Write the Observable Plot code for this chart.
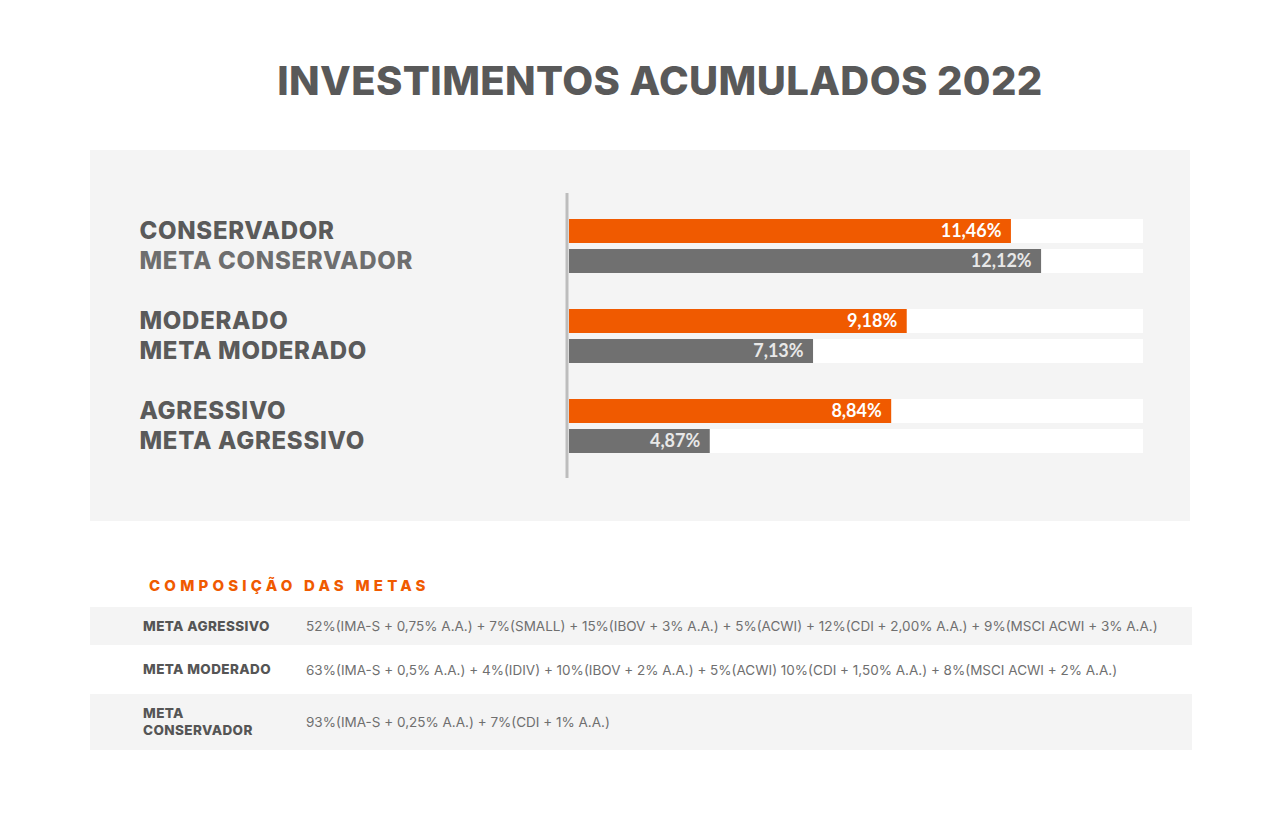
<!DOCTYPE html>
<html>
<head>
<meta charset="utf-8">
<script src="https://cdn.jsdelivr.net/npm/d3@7"></script>
<script src="https://cdn.jsdelivr.net/npm/@observablehq/plot@0.6"></script>
<style>
  html, body { margin: 0; padding: 0; background: #ffffff; }
  body { width: 1280px; height: 820px; position: relative; overflow: hidden; font-family: Inter, "Open Sans", sans-serif; }
  #title { position: absolute; left: 0; width: 1320px; top: 56px; text-align: center; font-size: 40px; font-weight: 800; color: #595959; letter-spacing: 0.4px; }
  #panel { position: absolute; left: 90px; top: 150px; width: 1100px; height: 371px; background: #f4f4f4; }
  #panel svg { overflow: visible; background: transparent; }
  #panel g[aria-label="rotulos"] text, #panel text[aria-label="rotulos"] { letter-spacing: 0.7px; }
  #comp { position: absolute; left: 149px; top: 576px; font-size: 15px; font-weight: 800; color: #f05a00; letter-spacing: 4.2px; }
  #tbl { position: absolute; left: 90px; top: 607px; width: 1102px; border-collapse: collapse; }
  #tbl td { padding: 0; vertical-align: middle; }
  #tbl td.n { padding-left: 53px; padding-right: 28px; width: 135px; font-size: 13.5px; font-weight: 800; color: #555555; line-height: 17px; letter-spacing: 0.4px; }
  #tbl td.c { padding-left: 0; font-size: 13.5px; color: #6f6f6f; white-space: nowrap; }
</style>
</head>
<body>
<div id="title">INVESTIMENTOS ACUMULADOS 2022</div>
<div id="panel"></div>
<div id="comp">COMPOSIÇÃO DAS METAS</div>
<table id="tbl"></table>
<script>
// ---- data ----
const categories = ["CONSERVADOR", "META CONSERVADOR", "MODERADO", "META MODERADO", "AGRESSIVO", "META AGRESSIVO"];
const values = [11.46, 12.12, 9.18, 7.13, 8.84, 4.87];
const series = ["Carteira", "Meta", "Carteira", "Meta", "Carteira", "Meta"];
const rowOrder = ["CONSERVADOR", "META CONSERVADOR", " ", "MODERADO", "META MODERADO", "  ", "AGRESSIVO", "META AGRESSIVO"];
const xDomain = [1.79, 14.35];

const metaNames = ["META AGRESSIVO", "META MODERADO", "META CONSERVADOR"];
const metaCompositions = [
  "52%(IMA-S + 0,75% A.A.) + 7%(SMALL) + 15%(IBOV + 3% A.A.) + 5%(ACWI) + 12%(CDI + 2,00% A.A.) + 9%(MSCI ACWI + 3% A.A.)",
  "63%(IMA-S + 0,5% A.A.) + 4%(IDIV) + 10%(IBOV + 2% A.A.) + 5%(ACWI) 10%(CDI + 1,50% A.A.) + 8%(MSCI ACWI + 2% A.A.)",
  "93%(IMA-S + 0,25% A.A.) + 7%(CDI + 1% A.A.)"
];

const data = categories.map((c, i) => ({category: c, value: values[i], series: series[i]}));
const fmt = v => v.toFixed(2).replace(".", ",") + "%";

const chart = Plot.plot({
  width: 1100,
  height: 371,
  marginTop: 43,
  marginBottom: 43,
  marginLeft: 479,
  marginRight: 47,
  style: {background: "transparent", overflow: "visible"},
  x: {domain: xDomain, clamp: true, axis: null},
  y: {domain: rowOrder, paddingInner: 0.2, paddingOuter: 0.834, axis: null},
  marks: [
    Plot.barX(categories, {y: d => d, x1: xDomain[0], x2: xDomain[1], fill: "#ffffff"}),
    Plot.barX(data, {y: "category", x1: xDomain[0], x2: "value", fill: d => d.series === "Meta" ? "#707070" : "#f05a00"}),
    Plot.ruleX([xDomain[0]], {stroke: "#bdbdbd", strokeWidth: 3, dx: -2.5}),
    Plot.text(data, {
      ariaLabel: "rotulos",
      y: "category", frameAnchor: "left", dx: -430, text: "category", textAnchor: "start",
      fill: d => d.category === "META CONSERVADOR" ? "#6e6e6e" : "#5a5a5a",
      fontSize: 24, fontWeight: 800, fontFamily: "Inter"
    }),
    Plot.text(data, {
      x: "value", y: "category", text: d => fmt(d.value), textAnchor: "end", dx: -10,
      fill: d => d.series === "Meta" ? "#e8e8e8" : "#ffffff",
      fontSize: 18, fontWeight: 700, fontFamily: "Lato"
    })
  ]
});
document.getElementById("panel").appendChild(chart);
// category labels: slightly wider tracking, like the reference lettering
d3.select(chart).selectAll("text").filter(function() { return categories.includes(this.textContent); })
  .style("letter-spacing", "0.7px");

// ---- composition table ----
const tbl = document.getElementById("tbl");
const rowH = [38, 49, 56];
const rowBg = ["#f4f4f4", "#ffffff", "#f4f4f4"];
metaNames.forEach((n, i) => {
  const tr = document.createElement("tr");
  tr.style.height = rowH[i] + "px";
  tr.style.background = rowBg[i];
  const a = document.createElement("td"); a.className = "n"; a.textContent = n;
  const b = document.createElement("td"); b.className = "c"; b.textContent = metaCompositions[i];
  tr.appendChild(a); tr.appendChild(b); tbl.appendChild(tr);
});
</script>
</body>
</html>
